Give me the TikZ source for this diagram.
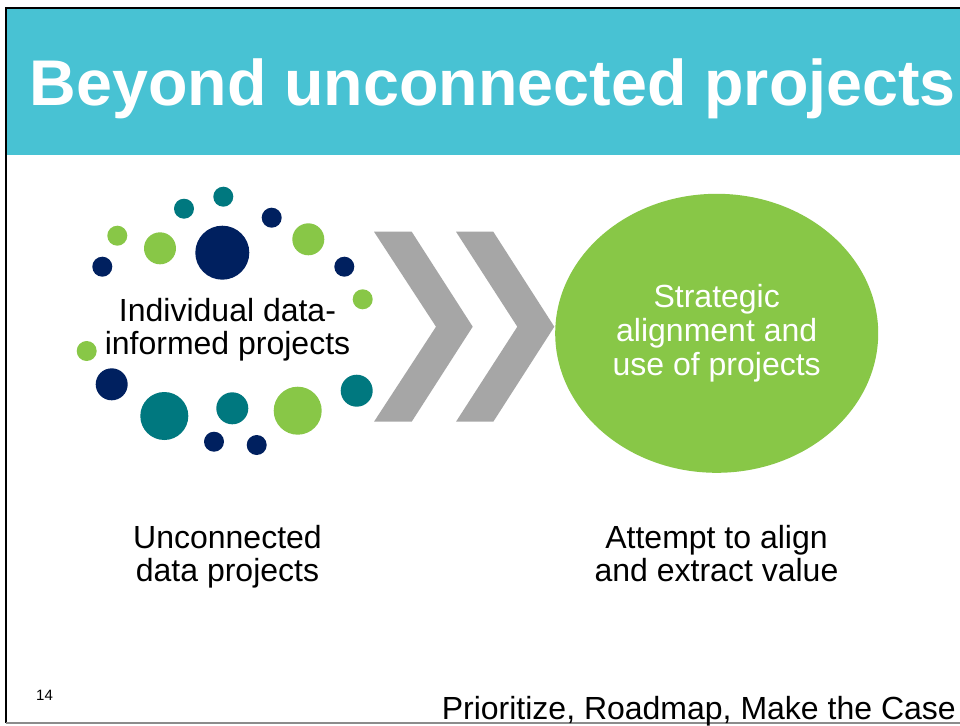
\documentclass[tikz,border=0pt]{standalone}
\usepackage{fontspec}
\setmainfont{Liberation Sans}
\usetikzlibrary{shapes.geometric}

\definecolor{barteal}{HTML}{48C2D3}
\definecolor{dotnavy}{HTML}{00205F}
\definecolor{dotteal}{HTML}{00787F}
\definecolor{dotgreen}{HTML}{88C747}
\definecolor{chevgray}{HTML}{A6A6A6}
\definecolor{rulegray}{HTML}{8C8C8C}

\begin{document}
\begin{tikzpicture}[x=1pt,y=-1pt,
  body/.style={font=\fontsize{32}{33}\selectfont, inner sep=0pt, align=center},
  navydot/.style={fill=dotnavy},
  tealdot/.style={fill=dotteal},
  greendot/.style={fill=dotgreen},
  chevron/.style={fill=chevgray},
  goal/.style={ellipse, fill=dotgreen, text=white, inner sep=0pt,
    minimum width=323pt, minimum height=279pt,
    font=\fontsize{32}{34}\selectfont, align=center},
]
\useasboundingbox (0,0) rectangle (960,725);
\fill[white] (0,0) rectangle (960,725);

% title bar and slide frame
\fill[barteal] (7,9) rectangle (960,155);
\draw[line width=2pt] (6,723) -- (6,8) -- (960,8);
\draw[rulegray, line width=2pt] (6,723) -- (960,723);
\node[anchor=base west, inner sep=0pt, text=white,
  font=\fontsize{64.6}{70}\selectfont\bfseries] (title) at (29.5,105)
  {Beyond unconnected projects};

% scattered project dots
\fill[tealdot]  (223.3,196.7) circle[radius=10];
\fill[tealdot]  (184.0,208.7) circle[radius=10];
\fill[navydot]  (271.7,217.7) circle[radius=10];
\fill[greendot] (117.3,235.7) circle[radius=10];
\fill[greendot] (160.0,248.3) circle[radius=16];
\fill[navydot]  (222.3,252.7) circle[radius=27];
\fill[greendot] (308.3,239.3) circle[radius=16];
\fill[navydot]  (102.3,266.7) circle[radius=10];
\fill[navydot]  (344.3,266.7) circle[radius=10];
\fill[greendot] (362.7,299.3) circle[radius=10];
\fill[greendot] (86.7,351.0)  circle[radius=10];
\fill[navydot]  (111.7,384.3) circle[radius=16];
\fill[tealdot]  (164.3,416.0) circle[radius=24];
\fill[tealdot]  (232.3,408.3) circle[radius=16];
\fill[greendot] (297.7,410.7) circle[radius=24];
\fill[tealdot]  (356.7,390.7) circle[radius=16];
\fill[navydot]  (214.0,441.7) circle[radius=10];
\fill[navydot]  (256.7,445.0) circle[radius=10];

\node[body, anchor=base] (cluster) at (227.5,354.3)
  {Individual data-\\informed projects};

% chevrons
\fill[chevron] (374,231.7) -- (411.7,231.7) -- (472.7,326.7)
  -- (411.7,421.7) -- (374,421.7) -- (436,326.7) -- cycle;
\fill[chevron] (456,231.7) -- (493.3,231.7) -- (554.3,326.7)
  -- (493.3,421.7) -- (456,421.7) -- (517.3,326.7) -- cycle;

% strategic alignment ellipse
\node[goal] (strategy) at (716.7,333.3)
  {Strategic\\alignment and\\use of projects};

% captions
\node[body, anchor=base] (leftcap) at (227.5,581.7)
  {Unconnected\\data projects};
\node[body, anchor=base] (rightcap) at (716.5,581.7)
  {Attempt to align\\and extract value};

% footer
\node[anchor=base west, inner sep=0pt, font=\fontsize{15}{18}\selectfont]
  (pagenum) at (36,700.7) {14};
\node[anchor=base east, inner sep=0pt, font=\fontsize{32}{34}\selectfont]
  (footer) at (956,719.3) {Prioritize, Roadmap, Make the Case};
\end{tikzpicture}
\end{document}
